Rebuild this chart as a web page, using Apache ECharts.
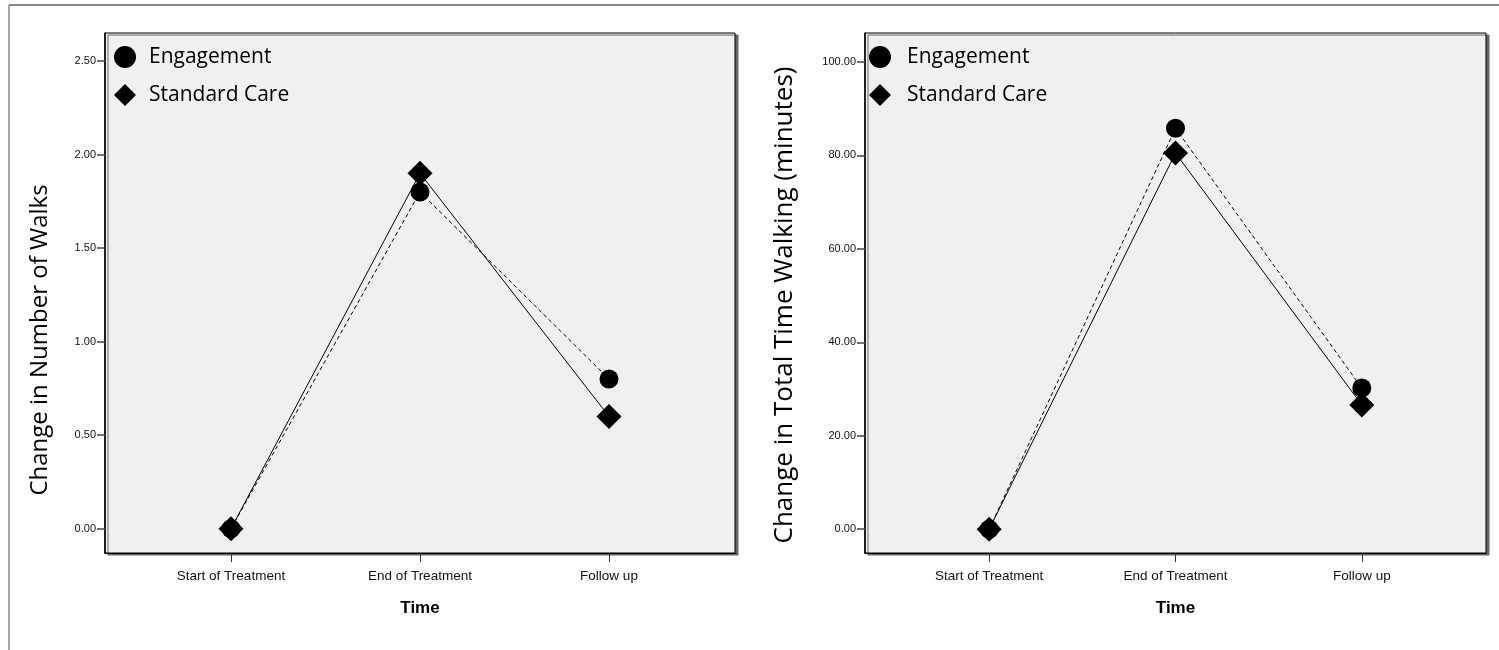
<!DOCTYPE html>
<html>
<head>
<meta charset="utf-8">
<script src="https://cdn.jsdelivr.net/npm/echarts@6/dist/echarts.min.js"></script>
<style>
html,body{margin:0;padding:0;background:#fff;}
#chart{width:1499px;height:650px;}
</style>
</head>
<body>
<div id="chart"></div>
<script>
// ---- data ----
const categories = ['Start of Treatment', 'End of Treatment', 'Follow up'];
const seriesNames = ['Engagement', 'Standard Care'];
const walksEngagement = [0, 1.80, 0.80];
const walksStandardCare = [0, 1.90, 0.60];
const timeEngagement = [0, 85.8, 30.2];
const timeStandardCare = [0, 80.5, 26.6];
const walksTicks = [0, 0.5, 1.0, 1.5, 2.0, 2.5];
const timeTicks = [0, 20, 40, 60, 80, 100];
const yTitles = ['Change in Number of Walks', 'Change in Total Time Walking (minutes)'];
const xTitle = 'Time';
const catIdx = [0, 1, 2];

const chart = echarts.init(document.getElementById('chart'));
const toPts = arr => arr.map((v, i) => [i, v]);

const baseFont = 'Liberation Sans, Arial, sans-serif';
const titleFont = 'Open Sans, Noto Sans, sans-serif';

function xAxis(gi) {
  return {
    type: 'value', gridIndex: gi, min: -2/3, max: 8/3,
    name: xTitle, nameLocation: 'middle', nameGap: 47,
    nameTextStyle: {fontFamily: baseFont, fontWeight: 'bold', fontSize: 17, color: '#000'},
    axisLine: {show: true, onZero: false, lineStyle: {color: '#000', width: 1}},
    axisTick: {show: true, length: 9, customValues: catIdx, lineStyle: {color: '#333'}},
    axisLabel: {customValues: catIdx, margin: 16, fontFamily: baseFont, fontSize: 13.5, color: '#111',
      formatter: v => categories[Math.round(v)] || ''},
    splitLine: {show: false}
  };
}
function yAxis(gi, min, max, ticks) {
  return {
    type: 'value', gridIndex: gi, min: min, max: max,
    axisLine: {show: true, onZero: false, lineStyle: {color: '#000', width: 1.5}},
    axisTick: {show: true, length: 8, customValues: ticks, lineStyle: {color: '#444', width: 1.5}},
    axisLabel: {customValues: ticks, margin: 9, fontFamily: baseFont, fontSize: 11, color: '#111',
      formatter: v => v.toFixed(2)},
    splitLine: {show: false}
  };
}
function lineSeries(name, data, gi, dashed, symbol, size, z) {
  return {
    type: 'line', name: name, xAxisIndex: gi, yAxisIndex: gi,
    data: toPts(data), symbol: symbol, symbolSize: size, z: z,
    itemStyle: {color: '#000'},
    lineStyle: {color: '#000', width: 1, type: dashed ? [4, 3] : 'solid'},
    emphasis: {disabled: true}, animation: false
  };
}
function legend(left, pad) {
  return {
    left: left, top: 41, orient: 'vertical', itemWidth: 22, itemHeight: 22, itemGap: 16,
    textStyle: {fontFamily: titleFont, fontSize: 21, color: '#000', padding: [0, 0, 0, pad]},
    data: [{name: seriesNames[0], icon: 'circle'}, {name: seriesNames[1], icon: 'diamond'}],
    selectedMode: false
  };
}
const gridStyle = {show: true, backgroundColor: '#f0f0f0', borderColor: '#000', borderWidth: 1,
  shadowColor: '#666', shadowOffsetX: 3, shadowOffsetY: 2, shadowBlur: 0};

chart.setOption({
  backgroundColor: '#fff',
  animation: false,
  grid: [
    Object.assign({left: 105, top: 33, width: 630, height: 520}, gridStyle),
    Object.assign({left: 865, top: 33, width: 621, height: 520}, gridStyle)
  ],
  legend: [legend(109, 8), legend(864, 11)],
  xAxis: [xAxis(0), xAxis(1)],
  yAxis: [
    yAxis(0, -0.13, 2.65, walksTicks),
    yAxis(1, -5.1, 106.2, timeTicks)
  ],
  series: [
    lineSeries(seriesNames[0], walksEngagement, 0, true, 'circle', 19, 2),
    lineSeries(seriesNames[1], walksStandardCare, 0, false, 'diamond', 25, 3),
    lineSeries(seriesNames[0], timeEngagement, 1, true, 'circle', 19, 2),
    lineSeries(seriesNames[1], timeStandardCare, 1, false, 'diamond', 25, 3)
  ],
  graphic: [
    {type: 'line', shape: {x1: 9, y1: 5, x2: 1499, y2: 5}, style: {stroke: '#888', lineWidth: 2}, silent: true},
    {type: 'line', shape: {x1: 9, y1: 5, x2: 9, y2: 650}, style: {stroke: '#888', lineWidth: 1.5}, silent: true},
    {type: 'text', x: 40, y: 340, rotation: Math.PI / 2, silent: true,
      style: {text: yTitles[0], font: '24px ' + titleFont, fill: '#000', align: 'center', verticalAlign: 'middle'}},
    {type: 'text', x: 785, y: 305, rotation: Math.PI / 2, silent: true,
      style: {text: yTitles[1], font: '26px ' + titleFont, fill: '#000', align: 'center', verticalAlign: 'middle'}}
  ]
});
</script>
</body>
</html>
